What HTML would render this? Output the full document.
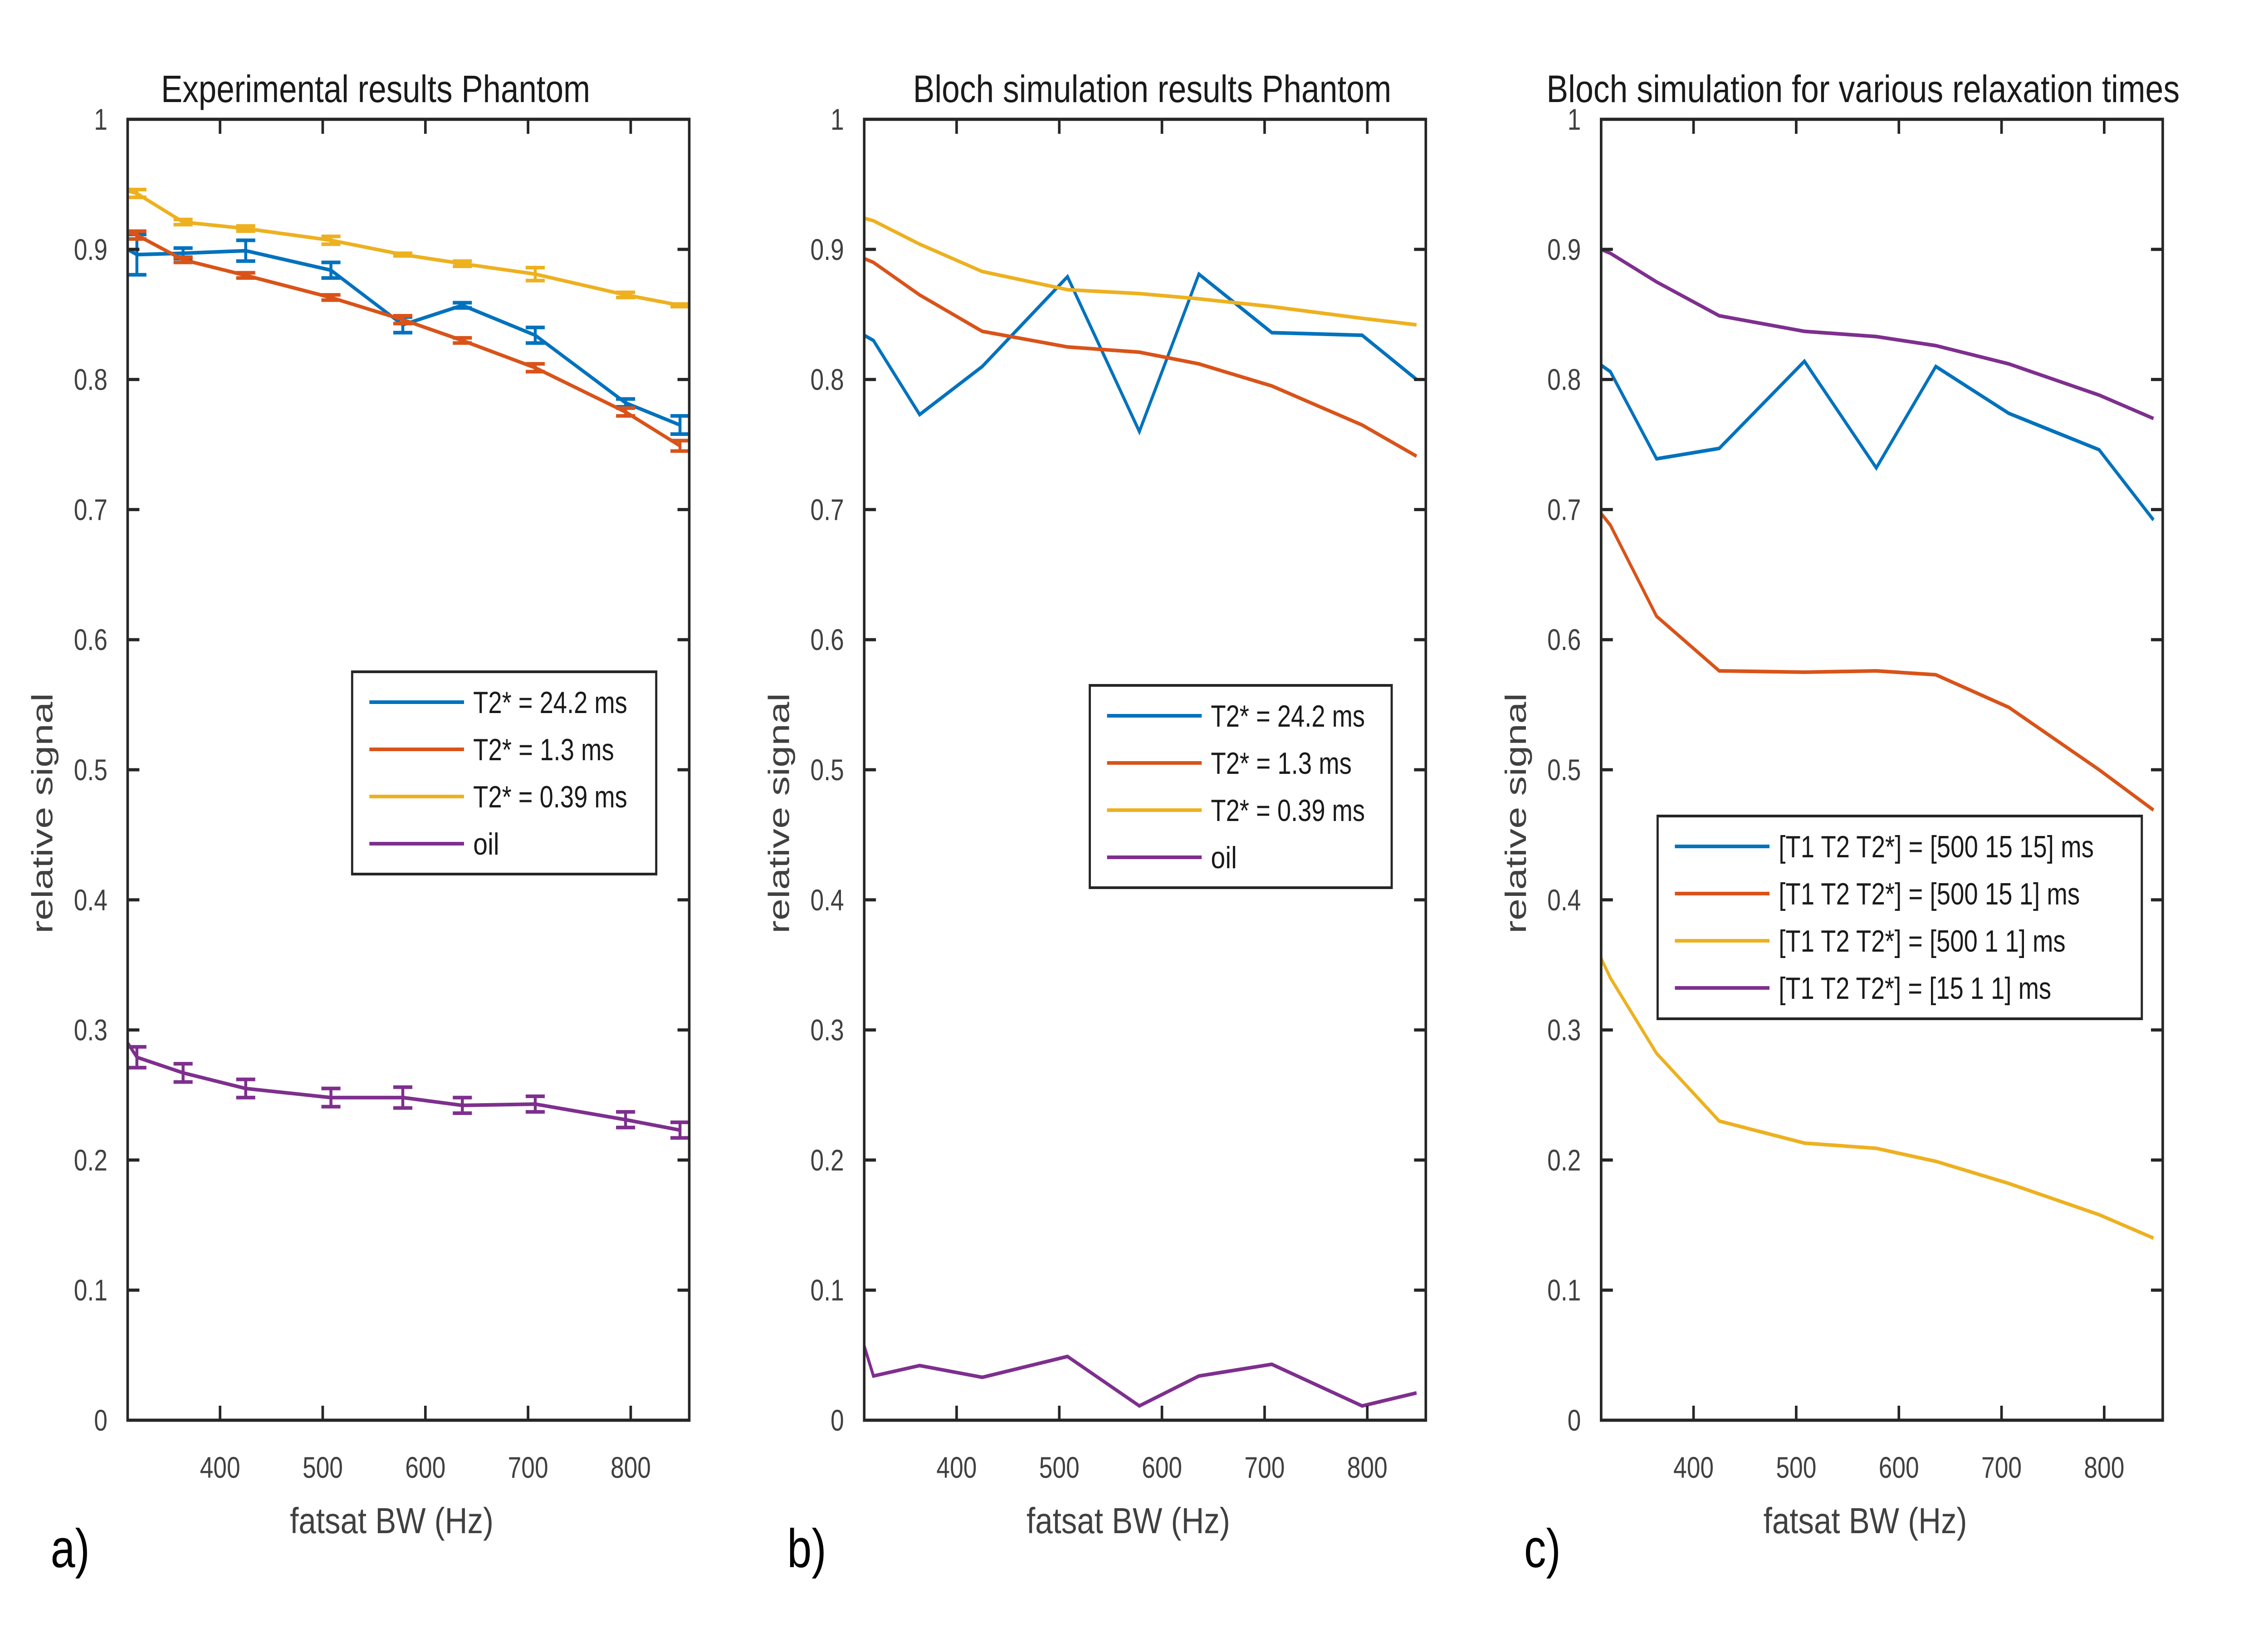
<!DOCTYPE html>
<html><head><meta charset="utf-8"><style>
html,body{margin:0;padding:0;background:#fff;overflow:hidden;width:100%;height:100%;}
svg{display:block;width:100vw;height:100vh;font-family:"Liberation Sans",sans-serif;}
</style></head><body>
<svg id="fig" viewBox="0 0 6183 3642" preserveAspectRatio="none" xmlns="http://www.w3.org/2000/svg"></svg>
<script>
// ---------- data ----------
const bw = [310, 319, 364, 425, 508, 578, 636, 707, 795, 848];
const yTicks = [0,0.1,0.2,0.3,0.4,0.5,0.6,0.7,0.8,0.9,1];
const yTickLabels = ["0","0.1","0.2","0.3","0.4","0.5","0.6","0.7","0.8","0.9","1"];
const xTicks = [400,500,600,700,800];
const xTickLabels = ["400","500","600","700","800"];

const expBlue   = [0.900,0.896,0.897,0.899,0.884,0.842,0.857,0.834,0.782,0.765];
const expBlueErr= [0.000,0.0155,0.004,0.008,0.006,0.006,0.002,0.006,0.003,0.007];
const expRed    = [0.913,0.911,0.892,0.880,0.863,0.846,0.830,0.809,0.775,0.749];
const expRedErr = [0.000,0.003,0.002,0.002,0.002,0.003,0.002,0.003,0.003,0.004];
const expYel    = [0.945,0.943,0.921,0.916,0.907,0.896,0.889,0.881,0.865,0.857];
const expYelErr = [0.000,0.003,0.002,0.002,0.003,0.001,0.002,0.005,0.002,0.001];
const expPur    = [0.290,0.279,0.267,0.255,0.248,0.248,0.242,0.243,0.231,0.223];
const expPurErr = [0.000,0.008,0.007,0.007,0.007,0.008,0.006,0.006,0.006,0.006];

const simBlue = [0.834,0.830,0.773,0.810,0.879,0.760,0.881,0.836,0.834,0.800];
const simRed  = [0.893,0.890,0.865,0.837,0.825,0.821,0.812,0.795,0.765,0.741];
const simYel  = [0.924,0.922,0.904,0.883,0.869,0.866,0.862,0.856,0.847,0.842];
const simPur  = [0.057,0.034,0.042,0.033,0.049,0.011,0.034,0.043,0.011,0.021];

const relBlue = [0.811,0.806,0.739,0.747,0.814,0.732,0.810,0.774,0.746,0.692];
const relRed  = [0.697,0.688,0.618,0.576,0.575,0.576,0.573,0.548,0.500,0.469];
const relYel  = [0.355,0.340,0.282,0.230,0.213,0.209,0.199,0.182,0.158,0.140];
const relPur  = [0.900,0.897,0.875,0.849,0.837,0.833,0.826,0.812,0.788,0.770];

const legendA = ["T2* = 24.2 ms","T2* = 1.3 ms","T2* = 0.39 ms","oil"];
const legendC = ["[T1 T2 T2*] = [500 15 15] ms","[T1 T2 T2*] = [500 15 1] ms","[T1 T2 T2*] = [500 1 1] ms","[T1 T2 T2*] = [15 1 1] ms"];

// ---------- drawing ----------
const C = {blue:"#0072BD", red:"#D95319", yel:"#EDB120", pur:"#7E2F8E"};
const NS = "http://www.w3.org/2000/svg";
const svg = document.getElementById('fig');
function mk(tag, attrs, parent){
  const e = document.createElementNS(NS, tag);
  for (const k in attrs) e.setAttribute(k, attrs[k]);
  (parent||svg).appendChild(e);
  return e;
}
const XMIN=310, XMAX=857, TOP=263, BOT=3131;
function panel(p){
  const g = mk('g',{});
  
  
  const L=p.left, R=p.left+1531;
  const sx = v => L + (v-XMIN)/(XMAX-XMIN)*(R-L);
  const sy = v => BOT - v*(BOT-TOP);
  p.series.forEach((s,si)=>{
    const pts = bw.map((x,i)=>sx(x).toFixed(1)+','+sy(s.vals[i]).toFixed(1)).join(' ');
    const pl = mk('polyline',{points:pts,fill:'none',stroke:s.color,'stroke-width':8,'stroke-linejoin':'miter'},g);
    
    
    if (s.err){
      bw.forEach((x,i)=>{
        if (!s.err[i]) return;
        const X=sx(x), y1=sy(s.vals[i]-s.err[i]), y2=sy(s.vals[i]+s.err[i]);
        const eb = mk('path',{d:`M${X},${y1}V${y2}M${X-26},${y1}H${X+26}M${X-26},${y2}H${X+26}`,stroke:s.color,'stroke-width':8,fill:'none'},g);
        
        
      });
    }
  });
  const box = mk('rect',{x:L,y:TOP,width:R-L,height:BOT-TOP,fill:'none',stroke:'#262626','stroke-width':7},g);
  
  
  yTicks.forEach((v,i)=>{
    const y=sy(v);
    mk('path',{d:`M${L},${y}h32M${R},${y}h-32`,stroke:'#262626','stroke-width':7},g);
    const t = mk('text',{x:L-55,y:y+23,'text-anchor':'end','font-size':66,fill:'#404040'},g);
    t.textContent = yTickLabels[i];
    
    
  });
  xTicks.forEach((v,i)=>{
    const x=sx(v);
    mk('path',{d:`M${x},${BOT}v-32M${x},${TOP}v32`,stroke:'#262626','stroke-width':7},g);
    const t = mk('text',{x:x,y:3258,'text-anchor':'middle','font-size':66,fill:'#404040'},g);
    t.textContent = xTickLabels[i];
    
    
  });
  const ttl = mk('text',{x:p.titleX,y:225,'text-anchor':'middle','font-size':84,fill:'#1a1a1a',textLength:p.titleW,lengthAdjust:'spacingAndGlyphs'},g);
  ttl.textContent = p.title;
  
  
  const xl = mk('text',{x:L+720,y:3380,'text-anchor':'middle','font-size':80,fill:'#404040',textLength:555,lengthAdjust:'spacingAndGlyphs'},g);
  xl.textContent = 'fatsat BW (Hz)';
  
  
  const yl = mk('text',{x:0,y:0,'text-anchor':'middle','font-size':80,fill:'#404040',textLength:530,lengthAdjust:'spacingAndGlyphs',transform:`translate(${L-205},1793) rotate(-90)`},g);
  yl.textContent = 'relative signal';
  
  
  const pl = mk('text',{x:L-210,y:3455,'font-size':120,fill:'#000'},g);
  pl.textContent = p.label;
  
  
  const lg = mk('g',{},g);
  
  
  mk('rect',{x:p.leg.x,y:p.leg.y,width:p.leg.w,height:p.leg.h,fill:'#fff',stroke:'#262626','stroke-width':6},lg);
  p.series.forEach((s,i)=>{
    const y = p.leg.y + 67 + i*104;
    const e = mk('g',{},lg);
    
    
    mk('line',{x1:p.leg.x+47,x2:p.leg.x+305,y1:y,y2:y,stroke:s.color,'stroke-width':8},e);
    const t = mk('text',{x:p.leg.x+330,y:y+24,'font-size':68,fill:'#1a1a1a',textLength:p.leg.tw[i],lengthAdjust:'spacingAndGlyphs'},e);
    t.textContent = p.legendText[i];
  });
}
panel({name:'panel-a-experimental', left:348, title:'Experimental results Phantom', titleX:1024, titleW:1170, label:'a)',
  leg:{x:960,y:1481,w:829,h:446,tw:[420,384,420,71]}, legendText:legendA,
  series:[{id:'t2-24',color:C.blue,vals:expBlue,err:expBlueErr},{id:'t2-1.3',color:C.red,vals:expRed,err:expRedErr},
          {id:'t2-0.39',color:C.yel,vals:expYel,err:expYelErr},{id:'oil',color:C.pur,vals:expPur,err:expPurErr}]});
panel({name:'panel-b-bloch', left:2356, title:'Bloch simulation results Phantom', titleX:3141, titleW:1304, label:'b)',
  leg:{x:2971,y:1511,w:823,h:446,tw:[420,384,420,71]}, legendText:legendA,
  series:[{id:'t2-24',color:C.blue,vals:simBlue},{id:'t2-1.3',color:C.red,vals:simRed},
          {id:'t2-0.39',color:C.yel,vals:simYel},{id:'oil',color:C.pur,vals:simPur}]});
panel({name:'panel-c-relaxation', left:4365, title:'Bloch simulation for various relaxation times', titleX:5079, titleW:1726, label:'c)',
  leg:{x:4519,y:1799,w:1320,h:447,tw:[859,821,782,743]}, legendText:legendC,
  series:[{id:'rel-500-15-15',color:C.blue,vals:relBlue},{id:'rel-500-15-1',color:C.red,vals:relRed},
          {id:'rel-500-1-1',color:C.yel,vals:relYel},{id:'rel-15-1-1',color:C.pur,vals:relPur}]});
</script>
</body></html>
